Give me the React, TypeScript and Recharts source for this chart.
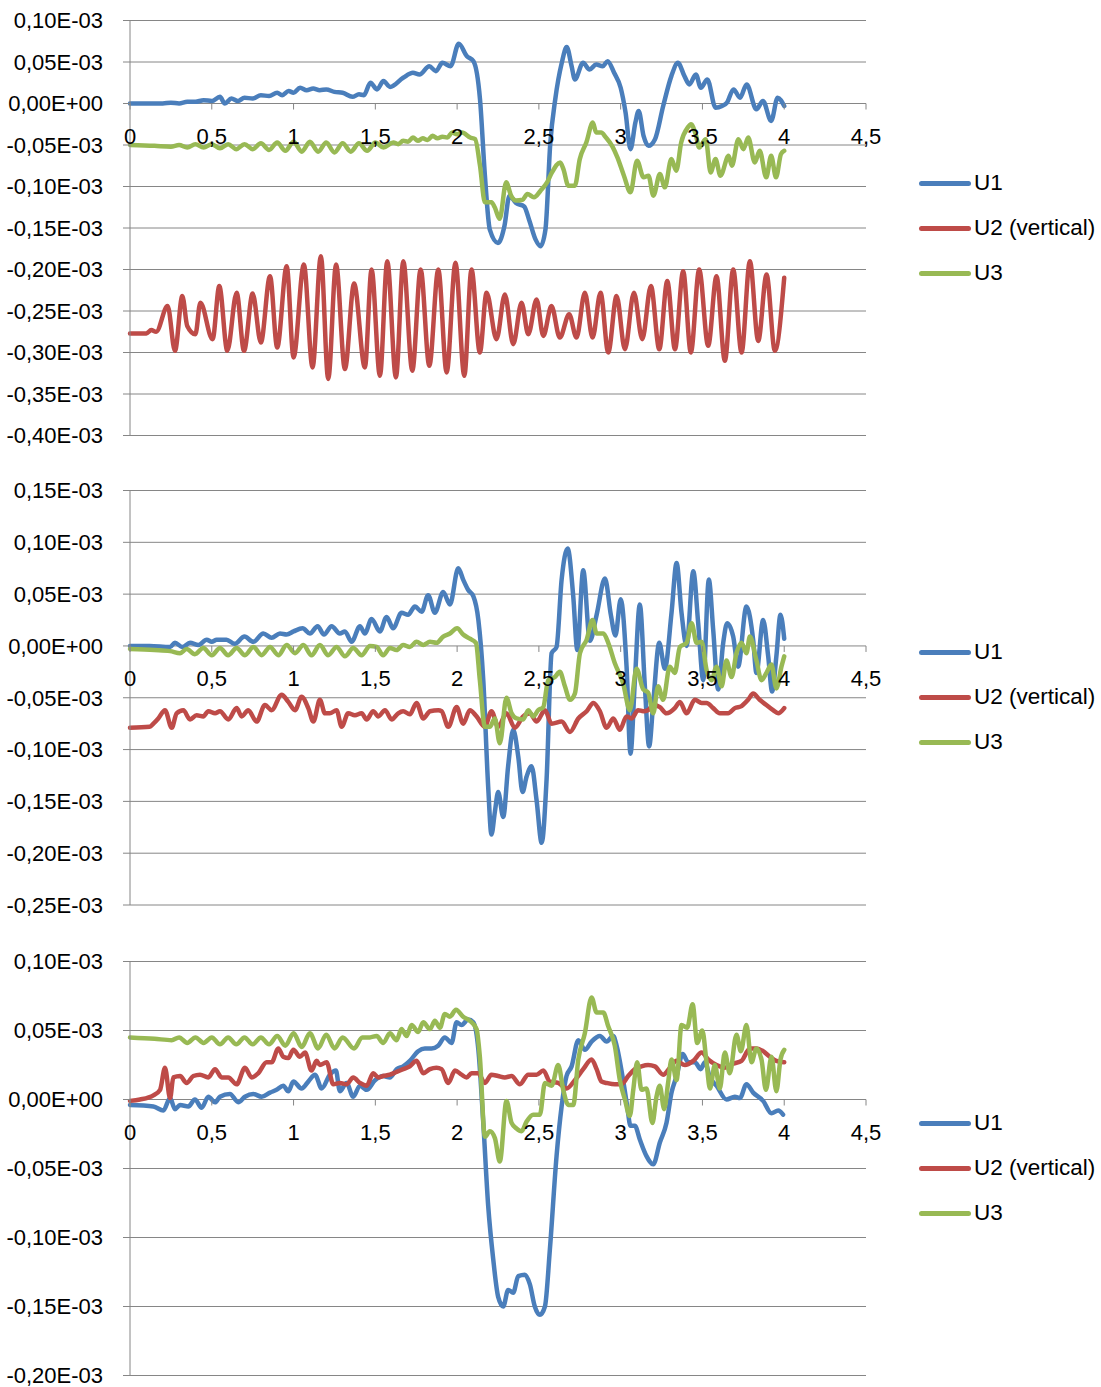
import React from "react";
import {
  LineChart,
  Line,
  XAxis,
  YAxis,
  CartesianGrid,
  ReferenceDot,
  Legend
} from "recharts";

// values are in units of 1E-03 (as printed on the axis)
const xTicks = [0, 0.5, 1, 1.5, 2, 2.5, 3, 3.5, 4, 4.5];
const xTickLabels = ["0", "0,5", "1", "1,5", "2", "2,5", "3", "3,5", "4", "4,5"];

const p1Ticks = [-0.4, -0.35, -0.3, -0.25, -0.2, -0.15, -0.1, -0.05, 0, 0.05, 0.1];
const p2Ticks = [-0.25, -0.2, -0.15, -0.1, -0.05, 0, 0.05, 0.1, 0.15];
const p3Ticks = [-0.2, -0.15, -0.1, -0.05, 0, 0.05, 0.1];

const p1U1 = [[0,0],[0.1,0],[0.2,0],[0.25,0.001],[0.3,0],[0.35,0.002],[0.4,0.002],[0.45,0.004],[0.5,0.003],[0.55,0.008],[0.58,0],[0.62,0.006],[0.66,0.003],[0.7,0.007],[0.75,0.006],[0.8,0.01],[0.85,0.009],[0.9,0.013],[0.93,0.01],[0.97,0.015],[1.0,0.013],[1.04,0.019],[1.08,0.016],[1.12,0.018],[1.16,0.016],[1.2,0.017],[1.25,0.014],[1.3,0.013],[1.36,0.008],[1.4,0.011],[1.43,0.01],[1.47,0.025],[1.51,0.017],[1.55,0.027],[1.59,0.02],[1.67,0.031],[1.73,0.037],[1.77,0.035],[1.83,0.045],[1.87,0.039],[1.91,0.049],[1.96,0.045],[2.01,0.072],[2.06,0.057],[2.1,0.051],[2.14,0.005],[2.17,-0.087],[2.2,-0.152],[2.25,-0.168],[2.29,-0.147],[2.32,-0.111],[2.36,-0.12],[2.41,-0.124],[2.44,-0.14],[2.48,-0.164],[2.51,-0.172],[2.54,-0.152],[2.57,-0.047],[2.6,0.005],[2.64,0.049],[2.67,0.068],[2.7,0.045],[2.72,0.029],[2.77,0.049],[2.81,0.041],[2.85,0.047],[2.89,0.045],[2.92,0.051],[2.96,0.037],[3.0,0.019],[3.03,-0.011],[3.06,-0.055],[3.09,-0.023],[3.11,-0.009],[3.14,-0.039],[3.17,-0.051],[3.21,-0.043],[3.26,-0.003],[3.31,0.033],[3.35,0.049],[3.39,0.033],[3.42,0.023],[3.46,0.035],[3.49,0.019],[3.53,0.029],[3.58,-0.005],[3.62,-0.003],[3.65,0.001],[3.69,0.017],[3.73,0.007],[3.77,0.023],[3.83,-0.007],[3.87,0.003],[3.92,-0.021],[3.96,0.007],[4.0,-0.003]];

const p1U2 = [[0,-0.277],[0.1,-0.277],[0.13,-0.273],[0.16,-0.275],[0.23,-0.244],[0.275,-0.298],[0.32,-0.232],[0.35,-0.268],[0.4,-0.278],[0.43,-0.24],[0.505,-0.284],[0.546,-0.22],[0.595,-0.298],[0.652,-0.228],[0.697,-0.298],[0.75,-0.229],[0.8,-0.288],[0.856,-0.208],[0.9,-0.294],[0.958,-0.196],[1.0,-0.306],[1.063,-0.194],[1.116,-0.318],[1.167,-0.184],[1.212,-0.332],[1.26,-0.194],[1.314,-0.32],[1.37,-0.217],[1.436,-0.318],[1.477,-0.2],[1.528,-0.328],[1.573,-0.19],[1.626,-0.33],[1.671,-0.19],[1.726,-0.322],[1.777,-0.2],[1.83,-0.316],[1.885,-0.2],[1.936,-0.324],[1.99,-0.192],[2.044,-0.328],[2.088,-0.2],[2.139,-0.3],[2.18,-0.228],[2.241,-0.284],[2.292,-0.23],[2.343,-0.29],[2.394,-0.24],[2.435,-0.278],[2.486,-0.236],[2.527,-0.28],[2.577,-0.244],[2.628,-0.282],[2.685,-0.254],[2.73,-0.282],[2.781,-0.228],[2.828,-0.282],[2.877,-0.228],[2.924,-0.3],[2.975,-0.232],[3.026,-0.296],[3.081,-0.228],[3.132,-0.284],[3.185,-0.22],[3.236,-0.296],[3.285,-0.214],[3.332,-0.296],[3.382,-0.202],[3.429,-0.3],[3.48,-0.2],[3.535,-0.292],[3.586,-0.208],[3.637,-0.31],[3.688,-0.2],[3.739,-0.3],[3.79,-0.19],[3.841,-0.286],[3.892,-0.206],[3.943,-0.298],[4.0,-0.21]];

const p1U3 = [[0,-0.05],[0.15,-0.051],[0.25,-0.052],[0.3,-0.05],[0.35,-0.053],[0.4,-0.049],[0.45,-0.053],[0.5,-0.049],[0.55,-0.054],[0.6,-0.049],[0.65,-0.055],[0.7,-0.049],[0.75,-0.055],[0.8,-0.048],[0.85,-0.056],[0.9,-0.047],[0.95,-0.057],[1.0,-0.046],[1.05,-0.058],[1.1,-0.046],[1.15,-0.058],[1.2,-0.047],[1.25,-0.059],[1.3,-0.048],[1.35,-0.058],[1.4,-0.048],[1.45,-0.057],[1.5,-0.047],[1.55,-0.053],[1.61,-0.047],[1.64,-0.049],[1.67,-0.045],[1.7,-0.046],[1.73,-0.041],[1.76,-0.045],[1.79,-0.042],[1.82,-0.044],[1.85,-0.039],[1.88,-0.042],[1.91,-0.04],[1.94,-0.041],[1.97,-0.035],[2.0,-0.037],[2.03,-0.035],[2.08,-0.041],[2.11,-0.043],[2.14,-0.075],[2.17,-0.119],[2.21,-0.119],[2.23,-0.125],[2.26,-0.139],[2.3,-0.095],[2.33,-0.111],[2.36,-0.117],[2.4,-0.116],[2.43,-0.109],[2.47,-0.113],[2.51,-0.105],[2.55,-0.095],[2.58,-0.083],[2.63,-0.071],[2.65,-0.079],[2.68,-0.099],[2.72,-0.099],[2.75,-0.067],[2.79,-0.047],[2.83,-0.023],[2.85,-0.035],[2.88,-0.035],[2.91,-0.041],[2.95,-0.052],[2.98,-0.065],[3.02,-0.087],[3.06,-0.107],[3.1,-0.069],[3.14,-0.089],[3.17,-0.087],[3.2,-0.111],[3.24,-0.085],[3.27,-0.101],[3.31,-0.067],[3.34,-0.081],[3.37,-0.047],[3.41,-0.029],[3.43,-0.025],[3.46,-0.038],[3.48,-0.053],[3.52,-0.043],[3.55,-0.083],[3.58,-0.067],[3.61,-0.087],[3.66,-0.063],[3.68,-0.075],[3.72,-0.043],[3.75,-0.055],[3.78,-0.041],[3.82,-0.071],[3.85,-0.057],[3.89,-0.089],[3.92,-0.063],[3.95,-0.089],[3.98,-0.061],[4.0,-0.057]];

const p2U1 = [[0,0],[0.12,0],[0.245,-0.001],[0.275,0.003],[0.32,-0.001],[0.367,0.003],[0.418,0.001],[0.469,0.006],[0.5,0.004],[0.53,0.006],[0.59,0.006],[0.64,0.002],[0.7,0.009],[0.754,0.004],[0.815,0.012],[0.866,0.008],[0.917,0.012],[0.958,0.011],[1.0,0.014],[1.055,0.017],[1.1,0.012],[1.147,0.019],[1.186,0.011],[1.233,0.019],[1.283,0.012],[1.314,0.014],[1.355,0.004],[1.406,0.019],[1.436,0.012],[1.477,0.026],[1.528,0.014],[1.569,0.028],[1.609,0.017],[1.66,0.032],[1.7,0.03],[1.742,0.038],[1.783,0.033],[1.823,0.049],[1.864,0.032],[1.915,0.052],[1.956,0.04],[2.007,0.075],[2.037,0.064],[2.068,0.054],[2.099,0.048],[2.13,0.025],[2.16,-0.033],[2.19,-0.136],[2.21,-0.182],[2.231,-0.16],[2.251,-0.141],[2.282,-0.165],[2.312,-0.116],[2.343,-0.081],[2.374,-0.107],[2.4,-0.141],[2.425,-0.126],[2.455,-0.116],[2.486,-0.149],[2.517,-0.19],[2.547,-0.129],[2.578,-0.007],[2.608,-0.001],[2.639,0.064],[2.676,0.094],[2.71,0.048],[2.735,-0.004],[2.771,0.073],[2.812,0.005],[2.853,0.03],[2.904,0.065],[2.94,0.03],[2.968,0.01],[3.0,0.045],[3.036,-0.02],[3.06,-0.104],[3.087,-0.033],[3.117,0.04],[3.148,-0.039],[3.174,-0.097],[3.199,-0.055],[3.236,0.003],[3.27,-0.022],[3.311,0.032],[3.342,0.08],[3.372,0.032],[3.403,0],[3.444,0.072],[3.474,0.022],[3.505,-0.033],[3.539,0.064],[3.566,0.015],[3.596,-0.042],[3.627,0.003],[3.651,0.022],[3.688,0.009],[3.718,-0.02],[3.769,0.038],[3.81,0.006],[3.83,-0.026],[3.871,0.025],[3.902,-0.01],[3.926,-0.044],[3.952,-0.01],[3.977,0.03],[4.0,0.007]];

const p2U2 = [[0,-0.079],[0.12,-0.078],[0.143,-0.075],[0.173,-0.07],[0.214,-0.062],[0.255,-0.079],[0.285,-0.065],[0.326,-0.062],[0.367,-0.071],[0.407,-0.067],[0.448,-0.068],[0.479,-0.063],[0.52,-0.065],[0.55,-0.063],[0.601,-0.071],[0.652,-0.06],[0.683,-0.068],[0.723,-0.062],[0.774,-0.073],[0.825,-0.057],[0.866,-0.062],[0.927,-0.047],[0.968,-0.054],[1.009,-0.062],[1.049,-0.049],[1.09,-0.06],[1.121,-0.073],[1.161,-0.052],[1.192,-0.065],[1.222,-0.065],[1.263,-0.062],[1.294,-0.078],[1.334,-0.065],[1.375,-0.067],[1.416,-0.065],[1.447,-0.071],[1.487,-0.063],[1.518,-0.068],[1.559,-0.062],[1.6,-0.071],[1.64,-0.065],[1.67,-0.063],[1.711,-0.066],[1.752,-0.055],[1.793,-0.07],[1.834,-0.063],[1.885,-0.062],[1.905,-0.063],[1.946,-0.078],[1.997,-0.059],[2.037,-0.075],[2.078,-0.062],[2.119,-0.068],[2.17,-0.078],[2.21,-0.063],[2.251,-0.078],[2.302,-0.065],[2.353,-0.079],[2.404,-0.068],[2.445,-0.065],[2.486,-0.073],[2.537,-0.062],[2.578,-0.075],[2.639,-0.073],[2.69,-0.083],[2.741,-0.07],[2.792,-0.063],[2.833,-0.055],[2.873,-0.063],[2.914,-0.079],[2.955,-0.07],[2.995,-0.081],[3.036,-0.068],[3.066,-0.07],[3.107,-0.062],[3.138,-0.063],[3.168,-0.062],[3.199,-0.057],[3.24,-0.059],[3.28,-0.065],[3.331,-0.06],[3.362,-0.054],[3.403,-0.065],[3.454,-0.052],[3.495,-0.055],[3.525,-0.055],[3.566,-0.06],[3.606,-0.065],[3.657,-0.065],[3.698,-0.06],[3.739,-0.058],[3.779,-0.052],[3.81,-0.046],[3.85,-0.052],[3.891,-0.057],[3.932,-0.062],[3.963,-0.065],[4.0,-0.06]];

const p2U3 = [[0,-0.003],[0.15,-0.004],[0.245,-0.005],[0.306,-0.007],[0.346,-0.003],[0.397,-0.008],[0.448,-0.002],[0.5,-0.009],[0.55,-0.002],[0.6,-0.009],[0.652,-0.002],[0.703,-0.009],[0.754,-0.001],[0.805,-0.009],[0.856,-0.001],[0.907,-0.009],[0.958,0.001],[1.009,-0.007],[1.06,0.001],[1.11,-0.009],[1.161,0.001],[1.212,-0.009],[1.263,-0.001],[1.314,-0.01],[1.365,-0.002],[1.416,-0.009],[1.467,0],[1.508,-0.001],[1.548,-0.009],[1.589,-0.002],[1.63,-0.004],[1.67,0.001],[1.711,-0.001],[1.752,0.004],[1.793,0.001],[1.834,0.004],[1.874,0.003],[1.915,0.009],[1.956,0.012],[2.0,0.017],[2.037,0.011],[2.078,0.007],[2.115,0.003],[2.139,-0.033],[2.17,-0.078],[2.2,-0.078],[2.231,-0.07],[2.261,-0.094],[2.302,-0.05],[2.333,-0.065],[2.363,-0.07],[2.404,-0.071],[2.435,-0.062],[2.465,-0.068],[2.496,-0.062],[2.527,-0.059],[2.557,-0.033],[2.598,-0.03],[2.628,-0.025],[2.659,-0.039],[2.69,-0.052],[2.72,-0.046],[2.751,-0.007],[2.792,0.006],[2.828,0.025],[2.853,0.012],[2.894,0.012],[2.924,0.003],[2.965,-0.017],[3.015,-0.036],[3.056,-0.062],[3.097,-0.022],[3.138,-0.042],[3.168,-0.045],[3.199,-0.065],[3.229,-0.039],[3.26,-0.052],[3.3,-0.02],[3.331,-0.026],[3.362,-0.001],[3.403,0.003],[3.434,0.022],[3.464,0.003],[3.495,0.004],[3.525,-0.023],[3.556,-0.033],[3.586,-0.02],[3.617,-0.039],[3.647,-0.014],[3.678,-0.03],[3.708,-0.007],[3.739,0.003],[3.769,-0.007],[3.79,0.009],[3.83,-0.014],[3.861,-0.033],[3.891,-0.026],[3.922,-0.018],[3.952,-0.041],[3.983,-0.02],[4.0,-0.01]];

const p3U1 = [[0,-0.004],[0.143,-0.005],[0.204,-0.008],[0.245,0.001],[0.275,-0.007],[0.306,-0.004],[0.357,-0.005],[0.397,0],[0.438,-0.006],[0.479,0.002],[0.52,-0.002],[0.55,0.002],[0.611,0.004],[0.662,-0.002],[0.703,0.002],[0.754,0.004],[0.805,0.002],[0.856,0.005],[0.896,0.007],[0.937,0.01],[0.968,0.006],[0.999,0.013],[1.049,0.008],[1.09,0.013],[1.131,0.018],[1.172,0.008],[1.222,0.018],[1.259,0.021],[1.283,0.006],[1.324,0.012],[1.365,0.002],[1.406,0.01],[1.447,0.007],[1.498,0.014],[1.548,0.017],[1.589,0.016],[1.63,0.022],[1.67,0.024],[1.711,0.028],[1.762,0.035],[1.803,0.037],[1.844,0.037],[1.884,0.039],[1.925,0.045],[1.966,0.041],[1.997,0.056],[2.027,0.054],[2.068,0.058],[2.099,0.056],[2.13,0.036],[2.16,-0.017],[2.19,-0.077],[2.221,-0.116],[2.251,-0.143],[2.282,-0.15],[2.312,-0.138],[2.343,-0.14],[2.374,-0.128],[2.414,-0.127],[2.445,-0.134],[2.475,-0.15],[2.506,-0.156],[2.537,-0.15],[2.567,-0.109],[2.608,-0.041],[2.639,-0.005],[2.669,0.017],[2.7,0.024],[2.741,0.043],[2.781,0.036],[2.822,0.042],[2.873,0.046],[2.914,0.042],[2.955,0.046],[2.975,0.039],[3.015,0.014],[3.04,-0.005],[3.06,-0.019],[3.087,-0.019],[3.117,-0.029],[3.158,-0.041],[3.199,-0.047],[3.24,-0.031],[3.28,-0.017],[3.311,0.005],[3.342,0.017],[3.379,0.033],[3.413,0.027],[3.454,0.027],[3.489,0.022],[3.515,0.027],[3.546,0.016],[3.586,0.01],[3.647,0],[3.698,0.002],[3.729,0.001],[3.769,0.011],[3.81,0.005],[3.871,-0.001],[3.922,-0.01],[3.963,-0.008],[3.993,-0.011]];

const p3U2 = [[0,-0.001],[0.061,0],[0.143,0.003],[0.184,0.007],[0.214,0.023],[0.245,0.001],[0.265,0.016],[0.306,0.017],[0.346,0.012],[0.387,0.017],[0.428,0.018],[0.479,0.016],[0.52,0.022],[0.56,0.016],[0.601,0.016],[0.652,0.011],[0.703,0.023],[0.744,0.016],[0.784,0.019],[0.835,0.027],[0.866,0.027],[0.907,0.037],[0.937,0.031],[0.968,0.03],[0.999,0.036],[1.039,0.031],[1.07,0.034],[1.11,0.021],[1.141,0.028],[1.161,0.025],[1.202,0.027],[1.243,0.011],[1.283,0.012],[1.324,0.011],[1.365,0.016],[1.406,0.012],[1.447,0.01],[1.487,0.019],[1.518,0.016],[1.548,0.017],[1.589,0.018],[1.63,0.02],[1.67,0.022],[1.711,0.024],[1.752,0.028],[1.793,0.019],[1.834,0.022],[1.874,0.023],[1.905,0.022],[1.946,0.012],[1.987,0.021],[2.027,0.018],[2.058,0.016],[2.088,0.019],[2.129,0.019],[2.17,0.012],[2.21,0.018],[2.251,0.017],[2.292,0.016],[2.333,0.017],[2.384,0.011],[2.435,0.018],[2.486,0.018],[2.527,0.021],[2.567,0.013],[2.618,0.012],[2.669,0.008],[2.72,0.014],[2.771,0.022],[2.822,0.029],[2.853,0.022],[2.883,0.013],[2.914,0.012],[2.965,0.011],[3.005,0.011],[3.046,0.017],[3.087,0.022],[3.127,0.024],[3.168,0.025],[3.209,0.024],[3.26,0.018],[3.301,0.023],[3.342,0.028],[3.393,0.025],[3.444,0.028],[3.495,0.034],[3.535,0.029],[3.586,0.025],[3.637,0.023],[3.688,0.026],[3.739,0.028],[3.79,0.037],[3.83,0.037],[3.871,0.035],[3.912,0.031],[3.952,0.028],[4.0,0.027]];

const p3U3 = [[0,0.045],[0.15,0.044],[0.255,0.043],[0.3,0.045],[0.35,0.041],[0.4,0.045],[0.45,0.041],[0.5,0.045],[0.55,0.04],[0.6,0.045],[0.65,0.04],[0.7,0.045],[0.75,0.04],[0.8,0.045],[0.85,0.04],[0.9,0.046],[0.95,0.039],[1.0,0.048],[1.05,0.038],[1.1,0.048],[1.15,0.037],[1.2,0.047],[1.25,0.037],[1.3,0.045],[1.37,0.037],[1.42,0.045],[1.467,0.045],[1.508,0.046],[1.548,0.041],[1.589,0.048],[1.63,0.043],[1.66,0.051],[1.691,0.046],[1.722,0.054],[1.762,0.049],[1.793,0.056],[1.834,0.051],[1.864,0.057],[1.895,0.052],[1.925,0.062],[1.956,0.06],[1.993,0.065],[2.037,0.06],[2.078,0.057],[2.119,0.051],[2.139,0.031],[2.17,-0.027],[2.2,-0.023],[2.231,-0.028],[2.261,-0.045],[2.302,-0.001],[2.333,-0.017],[2.363,-0.021],[2.394,-0.023],[2.425,-0.016],[2.465,-0.011],[2.506,-0.011],[2.537,0.012],[2.578,0.01],[2.618,0.025],[2.649,0.007],[2.68,-0.004],[2.71,-0.004],[2.741,0.029],[2.781,0.048],[2.822,0.074],[2.853,0.063],[2.894,0.063],[2.924,0.053],[2.964,0.039],[2.995,0.014],[3.026,0],[3.056,-0.012],[3.077,0.007],[3.101,0.027],[3.127,0.007],[3.158,0.008],[3.194,-0.017],[3.219,0.002],[3.239,0.01],[3.266,-0.007],[3.29,0.012],[3.311,0.029],[3.342,0.014],[3.372,0.054],[3.407,0.052],[3.44,0.069],[3.468,0.041],[3.499,0.05],[3.525,0.027],[3.546,0.008],[3.576,0.025],[3.606,0.008],[3.637,0.034],[3.667,0.019],[3.708,0.047],[3.735,0.035],[3.769,0.054],[3.8,0.027],[3.83,0.037],[3.861,0.029],[3.888,0.007],[3.922,0.031],[3.952,0.006],[3.977,0.029],[4.0,0.036]];

const BLUE = "#4A7EBB";
const RED = "#BE4B48";
const GREEN = "#98B954";
const GRID = "#868686";
const FONT = "'Liberation Sans', Arial, sans-serif";
const LW = 4.5;

const pts = (arr: number[][]) => arr.map(([t, v]) => ({ t, v }));

const fmtY = (v: number) =>
  Math.abs(v) < 1e-9
    ? "0,00E+00"
    : (v < 0 ? "-" : "") + Math.abs(v).toFixed(2).replace(".", ",") + "E-03";

function XTick(props: any) {
  const { cx, cy, label } = props;
  return (
    <g>
      <line x1={cx} y1={cy} x2={cx} y2={cy + 6} stroke={GRID} strokeWidth={1} />
      <text x={cx} y={cy + 40} textAnchor="middle" fontSize={22} fill="#000" fontFamily={FONT}>
        {label}
      </text>
    </g>
  );
}

function renderLegend(props: any) {
  const items = props.payload || [];
  return (
    <div style={{ display: "flex", flexDirection: "column", fontFamily: FONT }}>
      {items.map((e: any) => (
        <div key={e.value} style={{ height: 45, display: "flex", alignItems: "center", whiteSpace: "nowrap" }}>
          <div style={{ width: 52, height: 5, borderRadius: 2.5, background: e.color }} />
          <span style={{ fontSize: 22.5, marginLeft: 3, color: "#000" }}>{e.value}</span>
        </div>
      ))}
    </div>
  );
}

function Panel({ top, height, mTop, mBottom, domain, ticks, u1, u2, u3, legendTop }: any) {
  return (
    <div style={{ position: "absolute", left: 0, top, width: 1101, height }}>
      <LineChart
        width={1101}
        height={height}
        margin={{ top: mTop, right: 235, bottom: mBottom, left: 0 }}
      >
        <CartesianGrid vertical={false} stroke={GRID} strokeWidth={1} />
        <XAxis type="number" dataKey="t" domain={[0, 4.5]} ticks={xTicks} hide />
        <YAxis
          type="number"
          domain={domain}
          ticks={ticks}
          interval={0}
          width={130}
          tickFormatter={fmtY}
          axisLine={{ stroke: GRID }}
          tickLine={{ stroke: GRID }}
          tickSize={7}
          tickMargin={20}
          tick={{ fill: "#000", fontSize: 22, fontFamily: FONT }}
          allowDataOverflow
        />
        {xTicks.map((x, i) => (
          <ReferenceDot
            key={x}
            x={x}
            y={0}
            r={1}
            shape={(p: any) => <XTick {...p} label={xTickLabels[i]} />}
          />
        ))}
        <Line data={pts(u1)} dataKey="v" name="U1" type="monotone" stroke={BLUE} strokeWidth={LW} dot={false} isAnimationActive={false} strokeLinejoin="round" strokeLinecap="round" />
        <Line data={pts(u2)} dataKey="v" name="U2 (vertical)" type="monotone" stroke={RED} strokeWidth={LW} dot={false} isAnimationActive={false} strokeLinejoin="round" strokeLinecap="round" />
        <Line data={pts(u3)} dataKey="v" name="U3" type="monotone" stroke={GREEN} strokeWidth={LW} dot={false} isAnimationActive={false} strokeLinejoin="round" strokeLinecap="round" />
        <Legend
          layout="vertical"
          align="center"
          verticalAlign="middle"
          content={renderLegend}
          wrapperStyle={{ left: 919, top: legendTop, width: 182 }}
        />
      </LineChart>
    </div>
  );
}

export default function App() {
  return (
    <div
      style={{
        position: "absolute",
        left: 0,
        top: 0,
        width: 1101,
        height: 1387,
        background: "#fff",
        fontFamily: FONT
      }}
    >
      <Panel top={0} height={460} mTop={20.5} mBottom={24.5} domain={[-0.4, 0.1]} ticks={p1Ticks} u1={p1U1} u2={p1U2} u3={p1U3} legendTop={160.5} />
      <Panel top={460} height={470} mTop={30.5} mBottom={25} domain={[-0.25, 0.15]} ticks={p2Ticks} u1={p2U1} u2={p2U2} u3={p2U3} legendTop={169.5} />
      <Panel top={930} height={457} mTop={31.5} mBottom={11.5} domain={[-0.2, 0.1]} ticks={p3Ticks} u1={p3U1} u2={p3U2} u3={p3U3} legendTop={170.5} />
    </div>
  );
}
